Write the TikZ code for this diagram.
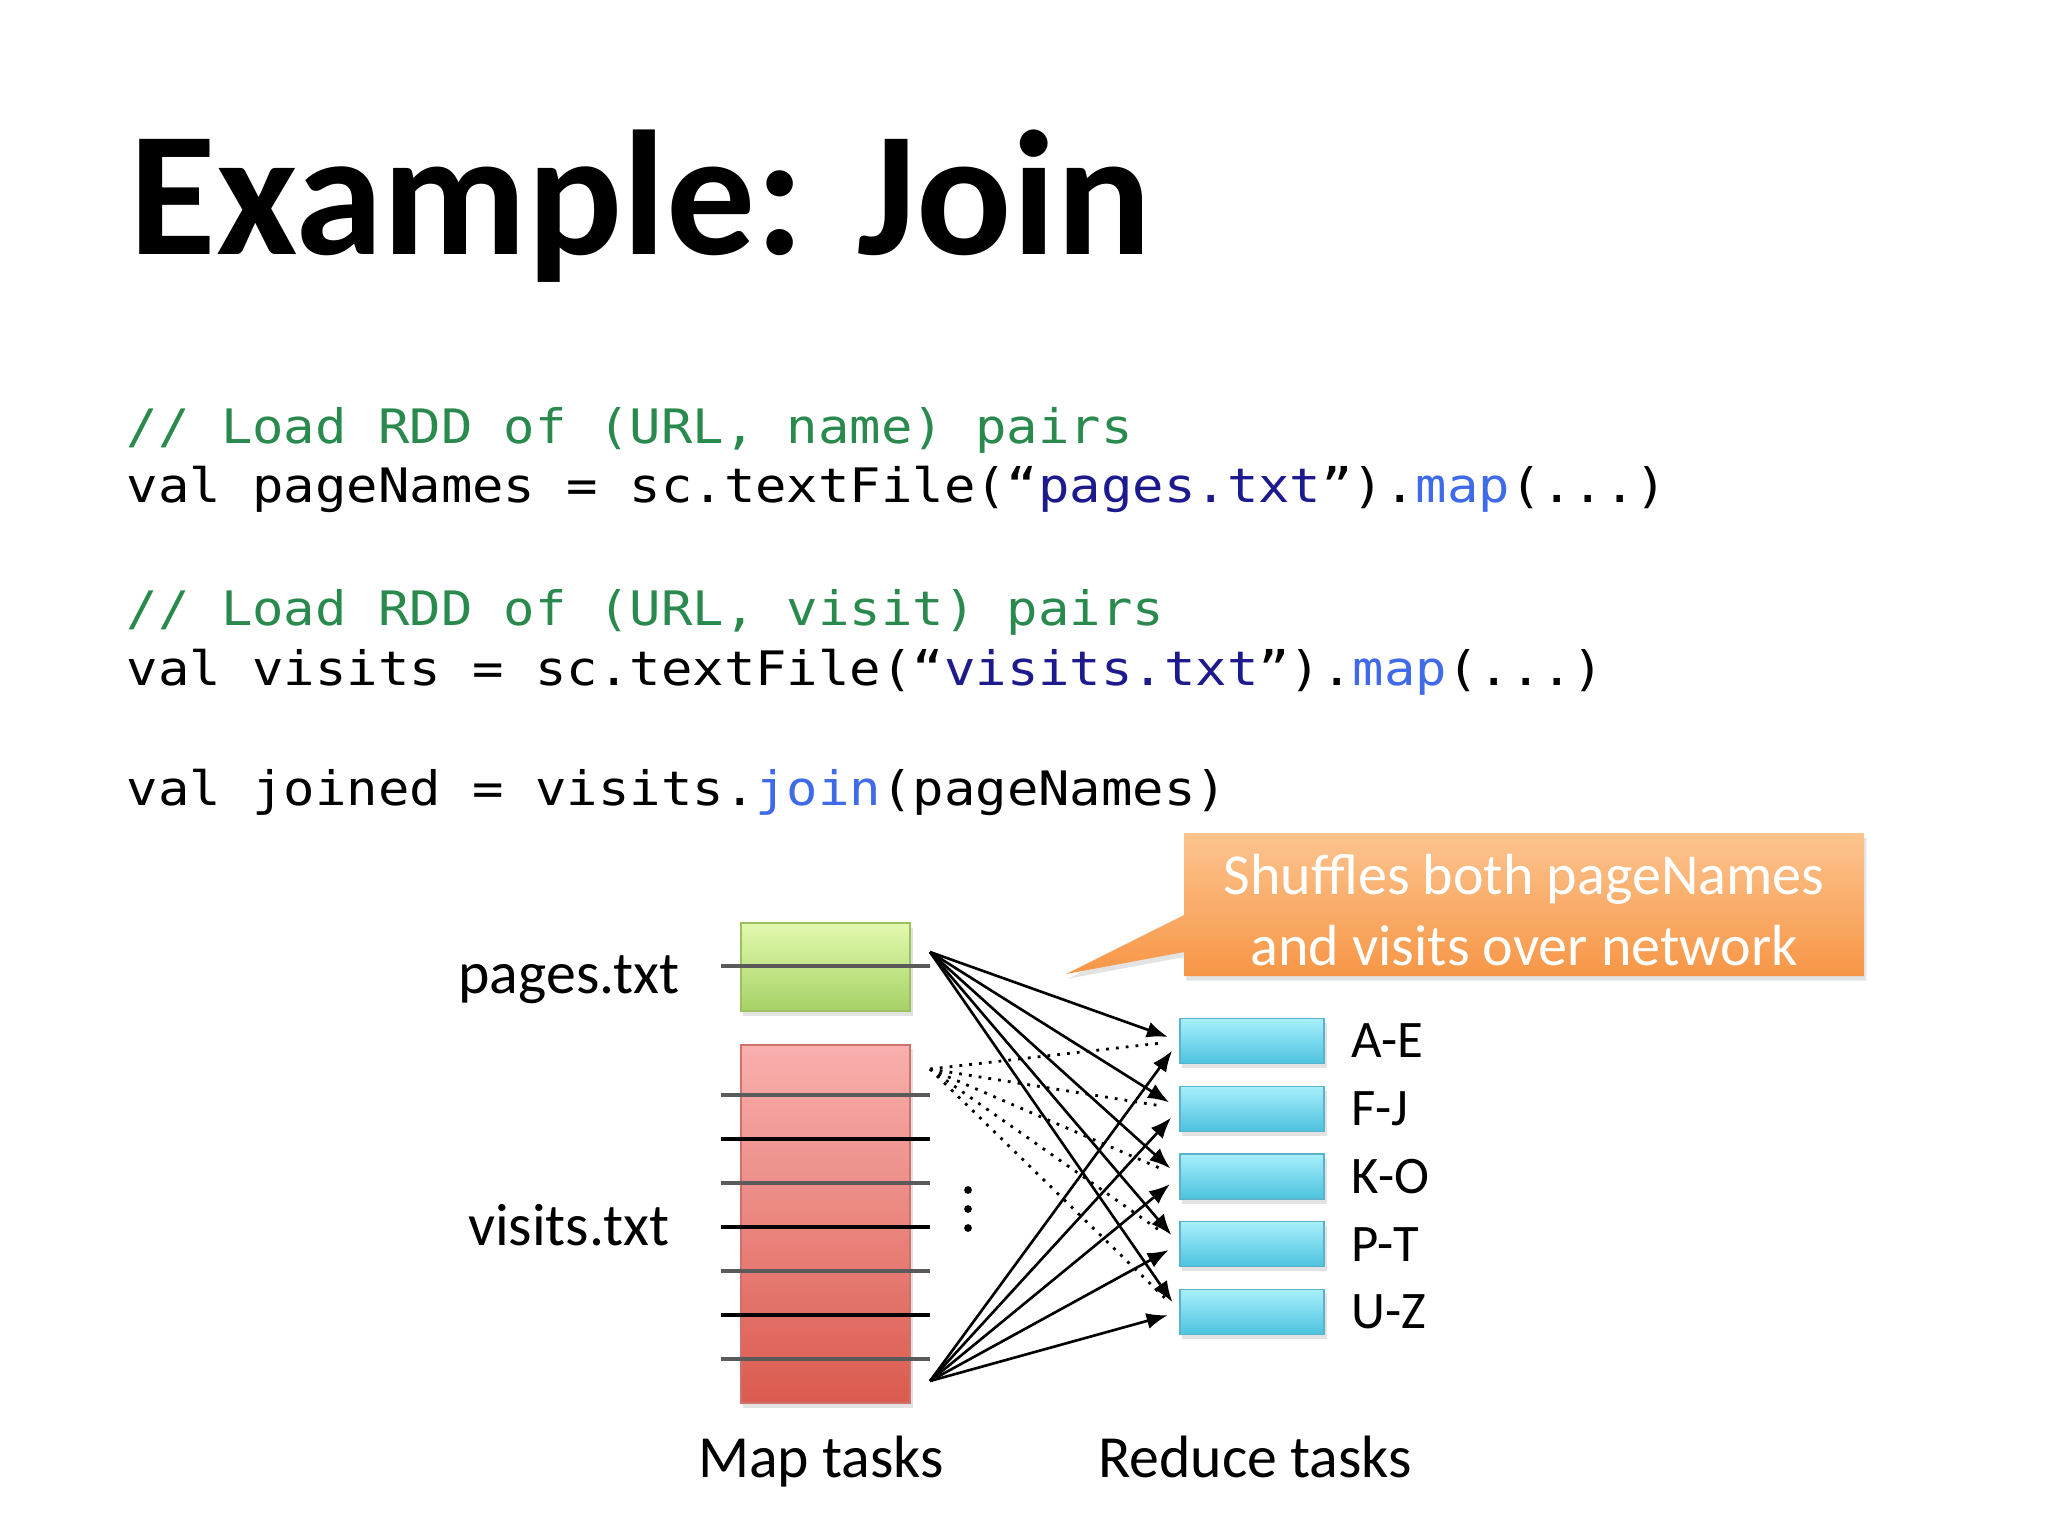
\documentclass[tikz,border=0pt]{standalone}
\usepackage{fontspec}
\setmainfont{Carlito}
\newfontfamily\codefont[FakeStretch=1.1]{DejaVu Sans Mono}
\usetikzlibrary{arrows.meta,positioning,shadows}
\definecolor{Cmt}{HTML}{2A8A4E}
\definecolor{Str}{HTML}{1C1A8C}
\definecolor{Kw}{HTML}{3F6AE8}
\definecolor{GreenTop}{HTML}{E2F9AE}
\definecolor{GreenBot}{HTML}{A6D266}
\definecolor{GreenLine}{HTML}{9CC060}
\definecolor{RedTop}{HTML}{F9B0AE}
\definecolor{RedBot}{HTML}{DA5A4E}
\definecolor{RedLine}{HTML}{D0706A}
\definecolor{CyanTop}{HTML}{A8EFFC}
\definecolor{CyanBot}{HTML}{4CC2DE}
\definecolor{CyanLine}{HTML}{5BB3CA}
\definecolor{OrangeTop}{HTML}{FCC48F}
\definecolor{OrangeBot}{HTML}{F79646}
\definecolor{Split}{HTML}{5A5A5A}
\tikzset{
  slidetitle/.style={anchor=base west,inner sep=0pt,font=\fontsize{50.5}{60}\selectfont\bfseries},
  codeline/.style={anchor=base west,inner sep=0pt,font=\codefont\fontsize{13.5}{16}\selectfont},
  filelabel/.style={inner sep=0pt,font=\fontsize{17}{20}\selectfont},
  keylabel/.style={inner sep=0pt,font=\fontsize{15}{18}\selectfont},
  softshadow/.style={drop shadow={opacity=0.22,shadow xshift=0.7pt,shadow yshift=-1.3pt}},
  pagebox/.style={draw=GreenLine,top color=GreenTop,bottom color=GreenBot,minimum width=1.69cm,minimum height=0.88cm,inner sep=0pt,softshadow},
  visitbox/.style={draw=RedLine,top color=RedTop,bottom color=RedBot,minimum width=1.69cm,minimum height=3.58cm,inner sep=0pt,softshadow},
  reducebox/.style={draw=CyanLine,top color=CyanTop,bottom color=CyanBot,minimum width=1.44cm,minimum height=0.45cm,inner sep=0pt,softshadow},
  split/.style={line width=1.1pt},
  flow/.style={-{Latex[length=6pt,width=4.6pt]},line width=0.75pt,shorten >=0.12cm},
  dotflow/.style={dotted,line width=0.8pt,shorten >=0.2cm},
  callbox/.style={top color=OrangeTop,bottom color=OrangeBot,softshadow},
  calltext/.style={inner sep=0pt,align=center,text=white,font=\fontsize{16.5}{20}\selectfont}
}

\begin{document}
\begin{tikzpicture}[x=0.01cm,y=-0.01cm]
  \fill[white] (0,0) rectangle (2048,1536);
  \useasboundingbox (0,0) rectangle (2048,1536);

  \node[slidetitle] (title) at (129,254) {Example: Join};

  % code
  \node[codeline] (cmt1) at (126,443) {\textcolor{Cmt}{// Load RDD of (URL, name) pairs}};
  \node[codeline] (ln1) at (126,502) {val pageNames = sc.textFile(“\textcolor{Str}{pages.txt}”).\textcolor{Kw}{map}(...)};
  \node[codeline] (cmt2) at (126,625) {\textcolor{Cmt}{// Load RDD of (URL, visit) pairs}};
  \node[codeline] (ln2) at (126,685) {val visits = sc.textFile(“\textcolor{Str}{visits.txt}”).\textcolor{Kw}{map}(...)};
  \node[codeline] (ln3) at (126,805) {val joined = visits.\textcolor{Kw}{join}(pageNames)};

  % callout
  \coordinate (cnw) at (1184,833);
  \coordinate (cse) at (1864,976);
  \coordinate (ctip) at (1066,974);
  \path[callbox] (cnw) -| (cse) -| (1184,952) -- (ctip) -- (1184,915) -- cycle;
  \node[calltext] (shuffle) at (1524,910) {Shuffles both pageNames\\and visits over network};

  % map side
  \node[pagebox] (pg) at (825.5,967) {};
  \node[visitbox] (vs) at (825.5,1224) {};
  \draw[split,draw=Split] (721,966) -- (930,966);
  \foreach \y/\c in {1095/Split,1139/black,1183/Split,1227/black,1271/Split,1315/black,1359/Split}
    \draw[split,draw=\c] (721,\y) -- (930,\y);
  \node[filelabel,anchor=base east] (pglabel) at (680,993) {pages.txt};
  \node[filelabel,anchor=base east] (vslabel) at (670,1245) {visits.txt};
  \foreach \y in {1190,1209,1228}
    \fill (968,\y) circle[radius=1.1pt];

  \coordinate (pgsrc) at (930,952);
  \coordinate (dotsrc) at (930,1069);
  \coordinate (vssrc) at (930,1381);

  % reduce side
  \foreach \r [count=\i] in {A-E,F-J,K-O,P-T,U-Z} {
    \node[reducebox] (re\i) at (1252,{1041+67.75*(\i-1)}) {};
    \node[keylabel,right=0.26cm of re\i] (key\i) {\r};
  }
  \foreach \i in {1,...,5} {
    \draw[dotflow] (dotsrc) -- (re\i.west);
    \draw[flow] (pgsrc) -- (re\i.west);
    \draw[flow] (vssrc) -- (re\i.west);
  }

  \node[filelabel,anchor=base] (maptasks) at (821,1477) {Map tasks};
  \node[filelabel,anchor=base] (reducetasks) at (1255,1477) {Reduce tasks};
\end{tikzpicture}
\end{document}
